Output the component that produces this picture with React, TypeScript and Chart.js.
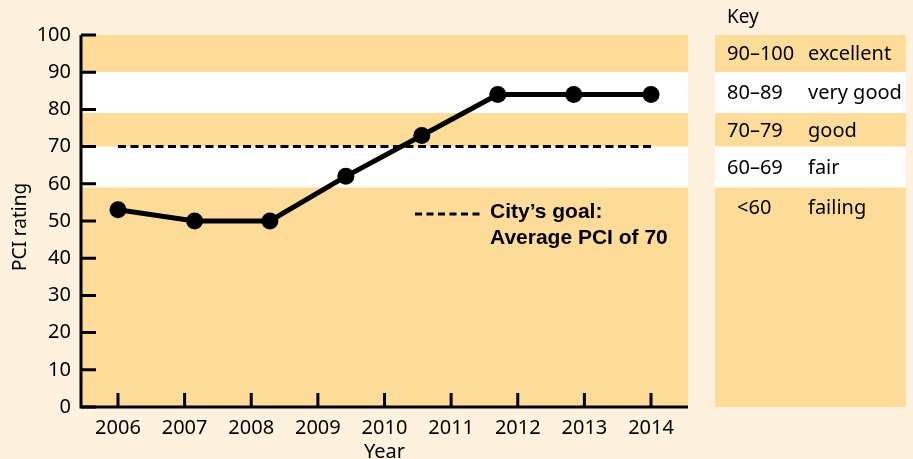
import React, { useEffect, useRef } from 'react';
import { Chart, registerables } from 'chart.js';

Chart.register(...registerables);

// ---- data ----
const yearTicks = [2006, 2007, 2008, 2009, 2010, 2011, 2012, 2013, 2014];
const pointYears = [2006, 2007.15, 2008.28, 2009.42, 2010.56, 2011.7, 2012.84, 2014];
const pciValues = [53, 50, 50, 62, 73, 84, 84, 84];
const goalYears = [2006, 2014];
const goalValue = 70;
const yTickValues = [0, 10, 20, 30, 40, 50, 60, 70, 80, 90, 100];
const bandLows = [90, 79, 70, 59, 0];
const bandHighs = [100, 90, 79, 70, 59];
const bandIsShaded = [true, false, true, false, true];
const keyRanges = ['90–100', '80–89', '70–79', '60–69', '<60'];
const keyLabels = ['excellent', 'very good', 'good', 'fair', 'failing'];
const goalLines = ['City’s goal:', 'Average PCI of 70'];

const CREAM = '#FEF2DE';
const ORANGE = '#FDDC9A';
const FONT = '"Noto Sans", "Open Sans", sans-serif';
const INK = '#000';

const decorPlugin = {
  id: 'decor',
  beforeDraw(chart: any) {
    const { ctx, chartArea, scales } = chart;
    const y = scales.y;
    ctx.save();
    ctx.fillStyle = CREAM;
    ctx.fillRect(0, 0, chart.width, chart.height);
    const keyLeft = 715;
    const keyRight = 906;
    for (let i = 0; i < bandLows.length; i++) {
      const top = y.getPixelForValue(bandHighs[i]);
      const bot = y.getPixelForValue(bandLows[i]);
      ctx.fillStyle = bandIsShaded[i] ? ORANGE : '#FFFFFF';
      ctx.fillRect(chartArea.left, top, chartArea.right - chartArea.left, bot - top);
      ctx.fillRect(keyLeft, top, keyRight - keyLeft, bot - top);
    }
    ctx.fillStyle = INK;
    ctx.textBaseline = 'middle';
    ctx.textAlign = 'left';
    ctx.font = `19px ${FONT}`;
    ctx.fillText('Key', 727, 18);
    ctx.font = `20px ${FONT}`;
    for (let i = 0; i < keyRanges.length; i++) {
      const top = y.getPixelForValue(bandHighs[i]);
      const bot = i === keyRanges.length - 1 ? top + 39 : y.getPixelForValue(bandLows[i]);
      const cy = (top + bot) / 2 + 1;
      ctx.fillText(keyRanges[i], i === keyRanges.length - 1 ? 737 : 727, cy);
      ctx.fillText(keyLabels[i], 808, cy);
    }
    ctx.restore();
  },
  afterDraw(chart: any) {
    const { ctx, chartArea, scales } = chart;
    const x = scales.x;
    const y = scales.y;
    ctx.save();
    ctx.strokeStyle = '#000';
    ctx.lineWidth = 3;
    ctx.lineCap = 'butt';
    ctx.beginPath();
    ctx.moveTo(chartArea.left, chartArea.top);
    ctx.lineTo(chartArea.left, chartArea.bottom + 1.5);
    ctx.moveTo(chartArea.left - 1.5, chartArea.bottom);
    ctx.lineTo(chartArea.right, chartArea.bottom);
    ctx.stroke();
    ctx.beginPath();
    for (const v of yTickValues) {
      const py = y.getPixelForValue(v);
      ctx.moveTo(chartArea.left, py);
      ctx.lineTo(chartArea.left + 15, py);
    }
    for (const v of yearTicks) {
      const px = x.getPixelForValue(v);
      ctx.moveTo(px, chartArea.bottom);
      ctx.lineTo(px, chartArea.bottom - 14);
    }
    ctx.stroke();
    // goal annotation
    ctx.setLineDash([7, 4.5]);
    ctx.beginPath();
    ctx.moveTo(415, 214);
    ctx.lineTo(481, 214);
    ctx.stroke();
    ctx.setLineDash([]);
    ctx.fillStyle = '#000';
    ctx.textAlign = 'left';
    ctx.textBaseline = 'alphabetic';
    ctx.font = `bold 21px "Liberation Sans", Arial, sans-serif`;
    ctx.fillText(goalLines[0], 490, 218);
    ctx.fillText(goalLines[1], 490, 244);
    // y axis title
    ctx.save();
    ctx.translate(21, 227);
    ctx.rotate(-Math.PI / 2);
    ctx.textAlign = 'center';
    ctx.textBaseline = 'middle';
    ctx.font = `19px ${FONT}`;
    ctx.fillStyle = INK;
    ctx.fillText('PCI rating', 0, 0);
    ctx.restore();
    ctx.restore();
  },
};

export default function App() {
  const ref = useRef<HTMLCanvasElement | null>(null);
  useEffect(() => {
    if (!ref.current) return;
    const chart = new Chart(ref.current, {
      type: 'line',
      data: {
        datasets: [
          {
            label: 'Goal',
            data: goalYears.map((yr) => ({ x: yr, y: goalValue })),
            borderColor: '#000',
            borderWidth: 3,
            borderDash: [8, 4.5],
            pointRadius: 0,
            fill: false,
            order: 2,
          },
          {
            label: 'PCI',
            data: pointYears.map((yr, i) => ({ x: yr, y: pciValues[i] })),
            borderColor: '#000',
            borderWidth: 5,
            pointRadius: 8.5,
            pointBackgroundColor: '#000',
            pointBorderColor: '#000',
            pointBorderWidth: 0,
            tension: 0,
            fill: false,
            order: 1,
          },
        ],
      },
      options: {
        animation: false,
        responsive: false,
        devicePixelRatio: 1,
        layout: { padding: { left: 0, top: 35, right: 225, bottom: 0 } },
        plugins: { legend: { display: false }, tooltip: { enabled: false } },
        events: [],
        scales: {
          x: {
            type: 'linear',
            min: 2005.445,
            max: 2014.555,
            afterBuildTicks: (scale: any) => {
              scale.ticks = yearTicks.map((v) => ({ value: v }));
            },
            afterFit: (scale: any) => {
              scale.height = 52;
            },
            grid: { display: false, drawTicks: false },
            border: { display: false },
            ticks: {
              autoSkip: false,
              maxRotation: 0,
              padding: 9,
              color: INK,
              font: { family: FONT, size: 20 },
              callback: (v: any) => String(v),
            },
            title: {
              display: true,
              text: 'Year',
              color: INK,
              font: { family: FONT, size: 20 },
              padding: { top: 0, bottom: -5 },
            },
          },
          y: {
            type: 'linear',
            min: 0,
            max: 100,
            afterBuildTicks: (scale: any) => {
              scale.ticks = yTickValues.map((v) => ({ value: v }));
            },
            afterFit: (scale: any) => {
              scale.width = 81;
            },
            grid: { display: false, drawTicks: false },
            border: { display: false },
            ticks: {
              padding: 10,
              color: INK,
              font: { family: FONT, size: 20 },
              callback: (v: any) => String(v),
            },
          },
        },
      },
      plugins: [decorPlugin],
    });
    return () => chart.destroy();
  }, []);
  return (
    <div style={{ position: 'absolute', left: 0, top: 0, width: 913, height: 459 }}>
      <canvas ref={ref} width={913} height={459} style={{ width: 913, height: 459, display: 'block' }} />
    </div>
  );
}
